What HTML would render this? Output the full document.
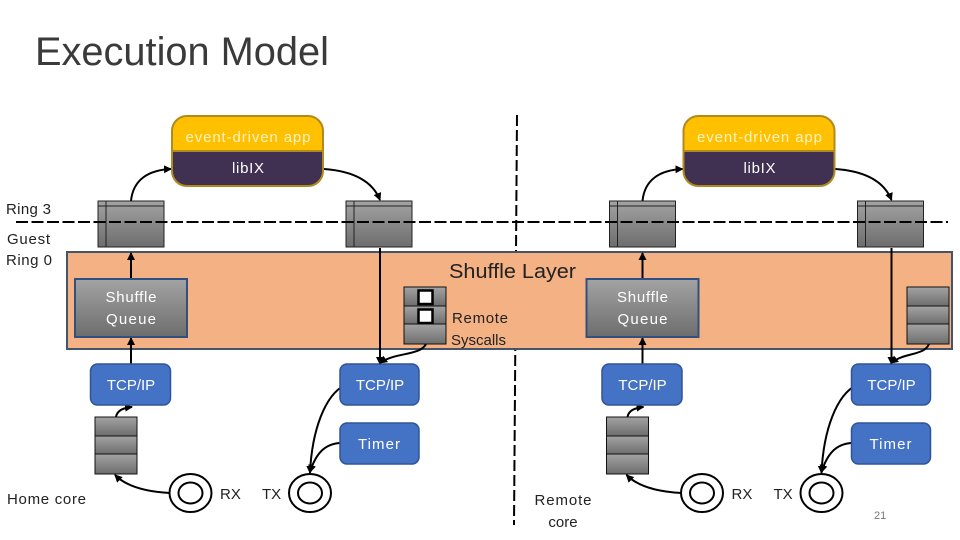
<!DOCTYPE html>
<html>
<head>
<meta charset="utf-8">
<style>
html,body{margin:0;padding:0;background:#fff;}
svg{display:block;}
text{font-family:"Liberation Sans",sans-serif;}
.w{fill:#fff;font-size:15px;text-anchor:middle;}
.k{fill:#222;font-size:15px;}
.c{fill:none;stroke:#000;stroke-width:2;}
</style>
</head>
<body>
<svg width="960" height="540" viewBox="0 0 960 540" xmlns="http://www.w3.org/2000/svg">
<defs>
<linearGradient id="g" x1="0" y1="0" x2="0" y2="1"><stop offset="0" stop-color="#a3a3a3"/><stop offset="1" stop-color="#6d6d6d"/></linearGradient>
<marker id="a" markerWidth="9" markerHeight="9" refX="7" refY="4" orient="auto" markerUnits="userSpaceOnUse"><path d="M0 0L8 4L0 8z" fill="#000"/></marker>
<g id="q1"><rect x="0" y="0" width="66" height="46" fill="url(#g)" stroke="#222" stroke-width="1"/><path d="M0 5H66M8 0V46" stroke="#222" stroke-width="1" fill="none"/></g>
<g id="q2"><rect x="0" y="0" width="42" height="19" fill="url(#g)" stroke="#111"/><rect x="0" y="19" width="42" height="18" fill="url(#g)" stroke="#111"/><rect x="0" y="37" width="42" height="20" fill="url(#g)" stroke="#111"/></g>
<g id="app">
<path d="M0 37V16Q0 1 15 1H136Q151 1 151 16V37z" fill="#ffc000"/>
<path d="M0 37H151V56Q151 71 136 71H15Q0 71 0 56z" fill="#403152"/>
<rect x="0" y="1" width="151" height="70" rx="15" fill="none" stroke="#b08a1c" stroke-width="2"/>
<path d="M0 36H151" stroke="#b08a1c" stroke-width="2"/>
</g>
<g id="ring"><ellipse cx="0" cy="0" rx="21" ry="19" fill="#fff" stroke="#000" stroke-width="2"/><ellipse cx="0" cy="0" rx="12" ry="10.500" fill="#fff" stroke="#000" stroke-width="2"/></g>
<g id="half">
<path class="c" d="M131 201C133 180 148 170 171 169" marker-end="url(#a)"/>
<path class="c" d="M324 169C352 171 372 180 380 200" marker-end="url(#a)"/>
<path class="c" d="M131 279V253" marker-end="url(#a)"/>
<path class="c" d="M131 364V338" marker-end="url(#a)"/>
<path class="c" d="M380 248V364" marker-end="url(#a)"/>
<path class="c" d="M116 417C117 411 122 408 132 407" marker-end="url(#a)"/>
<path class="c" d="M170 493C150 492 128 488 115 475" marker-end="url(#a)"/>
<path class="c" d="M345 385C325 395 312 430 310 473" marker-end="url(#a)"/>
<path class="c" d="M340 443C325 444 316 453 310 472" marker-end="url(#a)"/>
<use href="#q1" x="98" y="201"/>
<use href="#q1" x="346" y="201"/>
<use href="#q2" x="95" y="417"/>
<rect x="75" y="279" width="112" height="58" fill="url(#g)" stroke="#2f5080" stroke-width="2"/>
<text class="w" x="131" y="302" textLength="51" lengthAdjust="spacing">Shuffle</text>
<text class="w" x="131" y="324" textLength="50" lengthAdjust="spacing">Queue</text>
<rect x="90.500" y="364" width="80" height="41" rx="7" fill="#4472c4" stroke="#2f5597" stroke-width="1.500"/>
<text class="w" x="131" y="390">TCP/IP</text>
<rect x="340" y="364" width="79" height="41" rx="7" fill="#4472c4" stroke="#2f5597" stroke-width="1.500"/>
<text class="w" x="380" y="390">TCP/IP</text>
<rect x="340" y="423" width="79" height="41" rx="7" fill="#4472c4" stroke="#2f5597" stroke-width="1.500"/>
<text class="w" x="379" y="449" textLength="42" lengthAdjust="spacing">Timer</text>
<use href="#app" x="172" y="115"/>
<text class="w" x="248" y="142" style="fill:#fff2c0" textLength="125" lengthAdjust="spacing">event-driven app</text>
<text class="w" x="248" y="173" textLength="32" lengthAdjust="spacing">libIX</text>
<use href="#ring" x="190.500" y="493"/>
<use href="#ring" x="310" y="493"/>
<text class="k" x="220" y="499">RX</text>
<text class="k" x="262" y="499">TX</text>
</g>
</defs>
<rect width="960" height="540" fill="#fff"/>
<text x="35" y="65" font-size="40" fill="#3a3a3a" textLength="294" lengthAdjust="spacingAndGlyphs">Execution Model</text>

<path d="M517 115L514 525" stroke="#000" stroke-width="2" stroke-dasharray="11 4" fill="none"/>
<rect x="67" y="252" width="885" height="97" fill="#f4b183" stroke="#44546a" stroke-width="2"/>

<use href="#half"/>
<use href="#half" x="511.500"/>
<path d="M16 222H948" stroke="#000" stroke-width="2" stroke-dasharray="12 3.500" fill="none"/>

<text x="449" y="278" font-size="20" fill="#222" textLength="127" lengthAdjust="spacingAndGlyphs">Shuffle Layer</text>

<path class="c" d="M426 344C420 356 395 352 380 363" marker-end="url(#a)"/>
<use href="#q2" x="404" y="287"/>
<rect x="418.500" y="290.500" width="14" height="13.500" fill="#fff" stroke="#000" stroke-width="2.500"/>
<rect x="418.500" y="309.500" width="14" height="13.500" fill="#fff" stroke="#000" stroke-width="2.500"/>
<text class="k" x="452" y="323" textLength="56" lengthAdjust="spacing">Remote</text>
<text class="k" x="451" y="345" textLength="55" lengthAdjust="spacing">Syscalls</text>

<path class="c" d="M929 344C924 356 905 352 891 363" marker-end="url(#a)"/>
<use href="#q2" x="907" y="287"/>

<text class="k" x="6" y="214" textLength="45" lengthAdjust="spacing">Ring 3</text>
<text class="k" x="7" y="244" textLength="43" lengthAdjust="spacing">Guest</text>
<text class="k" x="6" y="265" textLength="46" lengthAdjust="spacing">Ring 0</text>
<text class="k" x="7" y="504" textLength="79" lengthAdjust="spacing">Home core</text>
<text class="k" x="563" y="505" text-anchor="middle" textLength="57" lengthAdjust="spacing">Remote</text>
<text class="k" x="563" y="527" text-anchor="middle">core</text>
<text x="874" y="519" font-size="11" fill="#777">21</text>
</svg>
</body>
</html>
